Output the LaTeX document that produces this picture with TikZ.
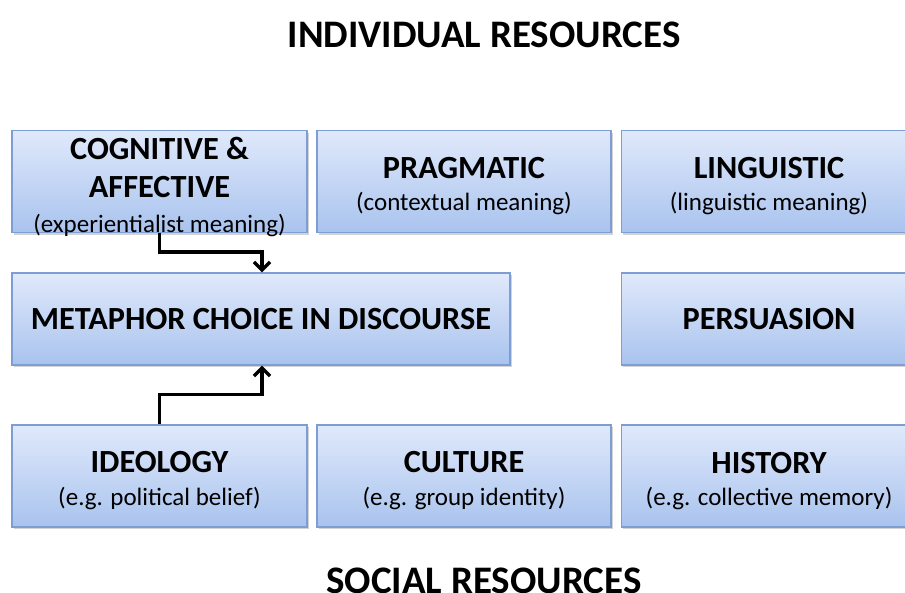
\documentclass[tikz,border=0pt]{standalone}
\usepackage{fontspec}
\setmainfont{Carlito}
\usepackage{tikz}
\usetikzlibrary{arrows.meta, shadows}
\definecolor{boxtop}{HTML}{E0E9FB}
\definecolor{boxbottom}{HTML}{A9C3EE}
\definecolor{boxline}{HTML}{7E9DD3}
\tikzset{>={Straight Barb[length=8pt,width=16pt]}}
\tikzset{
    resbox/.style={draw=boxline, line width=1.3pt, top color=boxtop, bottom color=boxbottom,
        drop shadow={shadow xshift=1.5pt, shadow yshift=-2pt, opacity=0.35},
        align=center, minimum width=#1, minimum height=102pt, inner sep=0pt,
        font=\fontsize{32.3}{37}\selectfont\bfseries},
    resbox/.default=295pt,
    boxtext/.style={align=center, inner sep=0pt, font=\fontsize{32.3}{37}\selectfont\bfseries},
    head/.style={font=\fontsize{39}{44}\selectfont\bfseries},
    link/.style={->, line width=3.4pt}
}
\newcommand{\boxnote}[1]{{\fontsize{25}{28}\selectfont\mdseries #1}}
\newcommand{\lift}[1][31pt]{\rule{0pt}{#1}}

\begin{document}
\begin{tikzpicture}[x=1pt, y=-1pt]
    \useasboundingbox (0, 0) rectangle (905, 592);
    \clip (0, 0) rectangle (905, 592);
    \node [head] (indiv) at (484, 35) {INDIVIDUAL RESOURCES};
    \node [head] (social) at (484, 581) {SOCIAL RESOURCES};
    % individual resources
    \node [resbox] (cog) at (159.5, 181.5) {};
    \node [boxtext] (cogtext) at (159.5, 186.5) {COGNITIVE \&\\[1pt] AFFECTIVE\\[-2pt] \boxnote{(experientialist meaning)}};
    \node [resbox=294pt] (prag) at (464, 181.5) {\lift PRAGMATIC\\[-5pt] \boxnote{(contextual meaning)}};
    \node [resbox] (ling) at (769, 181.5) {\lift LINGUISTIC\\[-5pt] \boxnote{(linguistic meaning)}};
    % middle row
    \node [resbox=498pt, minimum height=92pt] (meta) at (261, 319) {METAPHOR CHOICE IN DISCOURSE};
    \node [resbox, minimum height=92pt] (pers) at (769, 319) {PERSUASION};
    % social resources
    \node [resbox] (ideo) at (159.5, 476) {\lift[30pt]IDEOLOGY\\[-4pt] \boxnote{(e.g. political belief)}};
    \node [resbox=294pt] (cult) at (464, 476) {\lift[30pt]CULTURE\\[-4pt] \boxnote{(e.g. group identity)}};
    \node [resbox] (hist) at (769, 476) {\lift[32pt]HISTORY\\[-5pt] \boxnote{(e.g. collective memory)}};
    \draw [link] (cog.south) -- ++(0, 19) -| ([xshift=1pt]meta.north);
    \draw [link] (ideo.north) -- ++(0, -30) -| ([xshift=1pt]meta.south);
\end{tikzpicture}
\end{document}
